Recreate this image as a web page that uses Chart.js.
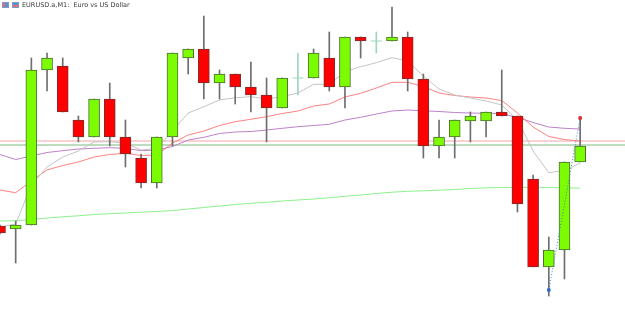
<!DOCTYPE html>
<html>
<head>
<meta charset="utf-8">
<script src="https://cdn.jsdelivr.net/npm/chart.js@4.4.1/dist/chart.umd.min.js"></script>
<style>
  html, body { margin: 0; padding: 0; background: #ffffff; }
  #wrap { position: relative; width: 625px; height: 326px; overflow: hidden; }
  #c { position: absolute; left: 0; top: 0; }
  #title { position: absolute; left: 2px; top: 1px; font-family: "DejaVu Sans", sans-serif; font-size: 6.5px; color: #3a3a3a; white-space: pre; line-height: 8px; display: flex; align-items: center; }
  .ic { display: inline-block; width: 7px; height: 6px; margin-right: 3px; border: 1px solid #7a9cc8; box-sizing: border-box; }
  .ic1 { background: linear-gradient(90deg, #e86a6a 0 45%, #5b8ed8 45% 100%); }
  .ic2 { background: linear-gradient(180deg, #5b8ed8 0 50%, #e86a6a 50% 100%); }
</style>
</head>
<body>
<div id="wrap">
  <canvas id="c" width="625" height="326"></canvas>
  <div id="title"><span class="ic ic1"></span><span class="ic ic2"></span>EURUSD.a,M1:  Euro vs US Dollar</div>
</div>
<script>
// ---- data (EURUSD M1 candles) ----
const opens  = [1.08274,1.08271,1.08275,1.08430,1.08434,1.08380,1.08363,1.08401,1.08363,1.08342,1.08317,1.08363,1.08442,1.08451,1.08417,1.08426,1.08413,1.08405,1.08392,1.08422,1.08422,1.08442,1.08413,1.08463,1.08459,1.08459,1.08463,1.08421,1.08354,1.08363,1.08379,1.08379,1.08388,1.08384,1.08321,1.08233,1.08250,1.08338];
const highs  = [1.08275,1.08279,1.08442,1.08447,1.08442,1.08384,1.08401,1.08417,1.08380,1.08346,1.08363,1.08447,1.08451,1.08484,1.08430,1.08426,1.08438,1.08422,1.08422,1.08447,1.08451,1.08468,1.08463,1.08463,1.08468,1.08493,1.08468,1.08426,1.08380,1.08380,1.08388,1.08388,1.08430,1.08384,1.08325,1.08263,1.08338,1.08382];
const lows   = [1.08266,1.08237,1.08275,1.08409,1.08388,1.08358,1.08363,1.08354,1.08333,1.08312,1.08312,1.08354,1.08426,1.08401,1.08401,1.08396,1.08388,1.08358,1.08392,1.08405,1.08422,1.08409,1.08392,1.08442,1.08447,1.08459,1.08409,1.08342,1.08342,1.08342,1.08358,1.08363,1.08384,1.08288,1.08233,1.08204,1.08221,1.08338];
const closes = [1.08267,1.08275,1.08430,1.08442,1.08388,1.08363,1.08401,1.08363,1.08346,1.08317,1.08363,1.08447,1.08451,1.08417,1.08426,1.08413,1.08405,1.08392,1.08422,1.08422,1.08447,1.08413,1.08463,1.08459,1.08459,1.08463,1.08421,1.08354,1.08363,1.08380,1.08384,1.08388,1.08384,1.08296,1.08233,1.08250,1.08338,1.08354];

const maFast   = [1.08273,1.08276,1.08315,1.08333,1.08343,1.08349,1.08358,1.083583,1.083567,1.08350,1.083515,1.08369,1.08387,1.083933,1.08400,1.084023,1.084033,1.08401,1.084033,1.08407,1.084157,1.084157,1.084283,1.084333,1.084373,1.084423,1.08439,1.08424,1.08411,1.08405,1.08402,1.08399,1.08395,1.08380,1.08349,1.083273,1.083295,1.08337];
const maRed    = [1.08310,1.083073,1.08319,1.08330,1.083345,1.08338,1.08343,1.083455,1.083467,1.083445,1.08345,1.08357,1.08365,1.08369,1.083745,1.083783,1.083807,1.083833,1.083865,1.08389,1.08394,1.08396,1.08403,1.084067,1.08412,1.084177,1.084177,1.084135,1.08407,1.084045,1.08403,1.08402,1.083995,1.08387,1.08373,1.083635,1.083605,1.08359];
const maPurple = [1.083455,1.083405,1.08344,1.083475,1.083493,1.08351,1.083517,1.083523,1.083517,1.083493,1.08350,1.083535,1.08360,1.083627,1.083665,1.08368,1.083685,1.08370,1.083717,1.083733,1.083745,1.083757,1.08380,1.083827,1.08386,1.08389,1.08390,1.083892,1.083885,1.083875,1.08387,1.083867,1.083865,1.083825,1.083775,1.08373,1.083717,1.08371];
const maGreen  = [1.08279,1.082793,1.082805,1.08282,1.082832,1.082842,1.082855,1.082863,1.08287,1.082878,1.082885,1.082895,1.08291,1.082925,1.08294,1.082955,1.082967,1.082977,1.08299,1.08300,1.08301,1.083022,1.083037,1.08305,1.083065,1.083078,1.083087,1.083092,1.083098,1.083105,1.083115,1.083122,1.083125,1.083127,1.083127,1.083125,1.083122,1.083118];

const levelPink  = 1.08359;
const levelGreen = 1.08355;
const arrowFrom = {bar: 35, price: 1.08210};
const arrowTo   = {bar: 37, price: 1.08382};

// ---- build datasets ----
const idx = opens.map((_, i) => i);
const isDoji = idx.map(i => opens[i] === closes[i]);
const isUp = idx.map(i => closes[i] > opens[i]);

const X_MAX = 39.86;
const Y_MIN = 1.08174, Y_MAX = 1.08500;

const wickData = idx.map(i => ({x: i, y: [lows[i], highs[i]]}));
const bodyData = idx.filter(i => !isDoji[i]).map(i => ({x: i, y: [opens[i], closes[i]]}));
const bodyFill = idx.filter(i => !isDoji[i]).map(i => isUp[i] ? '#7cfc00' : '#ff0000');
const bodyBorder = idx.filter(i => !isDoji[i]).map(i => isUp[i] ? '#4e6b35' : '#7a2e2e');
const dojiData = idx.filter(i => isDoji[i]).map(i => ({x: i, y: opens[i]}));
const line = (arr) => arr.map((v, i) => ({x: i, y: v}));

new Chart(document.getElementById('c'), {
  data: {
    datasets: [
      { type: 'line', data: [{x: arrowFrom.bar, y: arrowFrom.price}, {x: arrowTo.bar, y: arrowTo.price}],
        borderColor: '#3f83d4', borderWidth: 1, borderDash: [1, 2],
        pointRadius: [1.8, 1.8], pointBackgroundColor: ['#2f6fd0', '#e03030'], pointBorderColor: ['#2f6fd0', '#e03030'],
        pointStyle: 'rect', order: -1 },
      { type: 'scatter', data: dojiData, pointStyle: 'line', pointRadius: 5.5, borderColor: '#9fd6bd', borderWidth: 1, order: 0 },
      { type: 'bar', data: bodyData, backgroundColor: bodyFill, borderColor: bodyBorder, borderWidth: 1,
        borderSkipped: false, barThickness: 11, grouped: false, order: 0 },
      { type: 'bar', data: wickData, backgroundColor: idx.map(i => isDoji[i] ? '#9fd6bd' : '#6e6e6e'),
        borderWidth: 0, barThickness: 1, grouped: false, order: 1 },
      { type: 'line', data: line(maFast), borderColor: '#c4c4c4', borderWidth: 1, pointRadius: 0, order: 2 },
      { type: 'line', data: line(maRed), borderColor: '#ff8080', borderWidth: 1, pointRadius: 0, order: 2 },
      { type: 'line', data: line(maPurple), borderColor: '#bf80cc', borderWidth: 1, pointRadius: 0, order: 2 },
      { type: 'line', data: line(maGreen), borderColor: '#8cf08c', borderWidth: 1, pointRadius: 0, order: 2 },
      { type: 'line', data: [{x: 0, y: levelPink}, {x: X_MAX, y: levelPink}], borderColor: '#f2a6a6', borderWidth: 1, pointRadius: 0, order: 3 },
      { type: 'line', data: [{x: 0, y: levelGreen}, {x: X_MAX, y: levelGreen}], borderColor: '#7cb87c', borderWidth: 1, pointRadius: 0, order: 3 }
    ]
  },
  options: {
    responsive: false,
    devicePixelRatio: 1,
    animation: false,
    layout: { padding: 0, autoPadding: false },
    plugins: { legend: { display: false }, tooltip: { enabled: false }, title: { display: false } },
    scales: {
      x: { type: 'linear', min: 0, max: X_MAX, display: false, offset: false },
      y: { type: 'linear', min: Y_MIN, max: Y_MAX, display: false }
    }
  }
});
</script>
</body>
</html>
